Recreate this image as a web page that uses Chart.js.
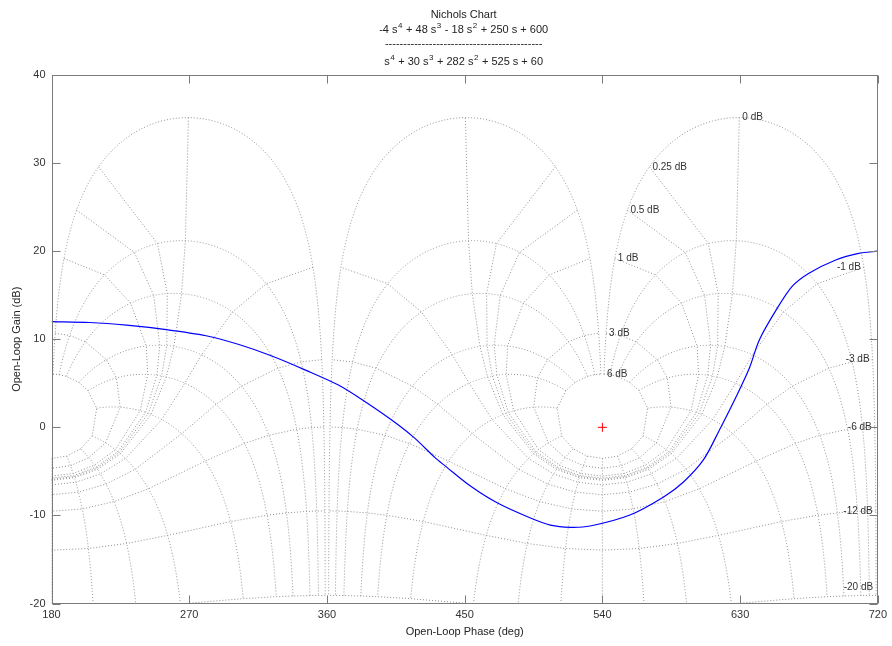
<!DOCTYPE html>
<html><head><meta charset="utf-8">
<script src="https://cdn.jsdelivr.net/npm/chart.js@4/dist/chart.umd.min.js"></script>
<style>html,body{margin:0;padding:0;background:#fff;} canvas{display:block;}</style>
</head><body>
<canvas id="c" width="892" height="646"></canvas>
<script>
// ---- data ----
const phaseTicks = [180, 270, 360, 450, 540, 630, 720];
const gainTicks = [-20, -10, 0, 10, 20, 30, 40];
const curvePhase = [180, 205, 229, 255, 281, 302.5, 324, 346, 367.5, 385, 406.5, 417.5, 431, 437, 454, 471.5, 493, 506, 519, 532, 558, 580, 593, 606, 616.5, 627.5, 636, 642.5, 653.5, 664, 675, 692.5, 707.5, 720];
const curveGain  = [12.0, 11.9, 11.6, 11.1, 10.4, 9.4, 8.1, 6.5, 4.8, 2.9, 0.3, -1.25, -3.5, -4.35, -6.7, -8.6, -10.3, -11.1, -11.35, -11.2, -9.95, -7.9, -6.2, -3.7, -0.3, 3.5, 6.7, 9.9, 13.3, 16.0, 17.5, 19.0, 19.75, 20.0];
const gridGainsDb = [6, 3, 1, 0.5, 0.25, 0, -1, -3, -6, -12, -20];
const gridPhasesDeg = [1, 5, 10, 20, 30, 50, 90, 120, 150, 180];
const gridShifts = [360, 720];
const criticalPhase = [540];
const criticalGain = [0];
const numCoeffs = [-4, 48, -18, 250, 600];
const denCoeffs = [1, 30, 282, 525, 60];
const chartTitle = 'Nichols Chart';
const xTitle = 'Open-Loop Phase (deg)';
const yTitle = 'Open-Loop Gain (dB)';

const FONT = '"Liberation Sans", Arial, Helvetica, sans-serif';
Chart.defaults.font.family = FONT;
Chart.defaults.font.size = 11;
Chart.defaults.color = '#333';

// Nichols grid geometry (closed-loop magnitude M dB, closed-loop phase -phi deg)
function nicholsPt(mDb, phiDeg) {
  const M = Math.pow(10, mDb / 20);
  const p = -phiDeg * Math.PI / 180;
  const tr = M * Math.cos(p), ti = M * Math.sin(p);
  const dr = 1 - tr, di = -ti;
  const a = Math.atan2(di, dr) * 180 / Math.PI;
  return { x: -phiDeg - a, y: 20 * Math.log10(M / Math.hypot(dr, di)) };
}
// sampling of closed-loop gain along the constant-phase (N) lines
function sampleGains(hi, lo) {
  const out = [];
  for (let g = hi; g > 1; g -= 0.1) out.push(g);
  for (let g = 1; g > -1; g -= 0.004) out.push(g);
  for (let g = -1; g > lo; g -= 0.1) out.push(g);
  out.push(lo);
  return out;
}
const gridLines = [];
gridGainsDb.forEach(g => {
  const pts = gridPhasesDeg.map(ph => nicholsPt(g, ph));
  const mir = pts.slice(0, -1).reverse().map(p => ({ x: -360 - p.x, y: p.y }));
  gridLines.push(pts.concat(mir));
});
const nGains = sampleGains(gridGainsDb[0], gridGainsDb[gridGainsDb.length - 1]);
gridPhasesDeg.forEach(ph => {
  const pts = nGains.map(g => nicholsPt(g, ph));
  gridLines.push(pts);
  if (ph !== 180) gridLines.push(pts.map(p => ({ x: -360 - p.x, y: p.y })));
});

const datasets = [];
datasets.push({
  data: criticalPhase.map((x, i) => ({ x, y: criticalGain[i] })),
  showLine: false, pointStyle: 'cross', pointRadius: 4.5, borderColor: '#ff0000',
  backgroundColor: '#ff0000', pointBorderWidth: 1
});
datasets.push({
  data: curvePhase.map((x, i) => ({ x, y: curveGain[i] })),
  showLine: true, borderColor: '#0000ff', borderWidth: 1.2, pointRadius: 0, tension: 0.3
});
gridShifts.forEach(k => {
  gridLines.forEach(line => {
    datasets.push({
      data: line.map(p => ({ x: p.x + k, y: p.y })),
      showLine: true, borderColor: '#8f8f8f', borderWidth: 1, borderDash: [1, 2],
      pointRadius: 0, tension: 0
    });
  });
});

function polyParts(c) {
  const n = c.length - 1;
  const parts = [];
  c.forEach((v, i) => {
    const pw = n - i;
    let s = '';
    if (i === 0) s = v < 0 ? '-' : '';
    else s = v < 0 ? ' - ' : ' + ';
    const a = Math.abs(v);
    if (pw === 0) { s += a; parts.push({ t: s }); return; }
    if (a !== 1) s += a + ' ';
    s += 's';
    parts.push({ t: s });
    if (pw > 1) parts.push({ t: String(pw), sup: true });
  });
  return parts;
}
function drawRich(ctx, parts, cx, base) {
  const big = '11px ' + FONT, small = '8px ' + FONT;
  let w = 0;
  parts.forEach(p => { ctx.font = p.sup ? small : big; w += ctx.measureText(p.t).width + (p.sup ? 1 : 0); });
  let x = cx - w / 2;
  ctx.textAlign = 'left'; ctx.textBaseline = 'alphabetic';
  parts.forEach(p => {
    ctx.font = p.sup ? small : big;
    ctx.fillText(p.t, x + (p.sup ? 0.5 : 0), p.sup ? base - 5 : base);
    x += ctx.measureText(p.t).width + (p.sup ? 1 : 0);
  });
  return w;
}

const decor = {
  id: 'decor',
  afterDatasetsDraw(chart) {
    const ctx = chart.ctx, xs = chart.scales.x, ys = chart.scales.y, a = chart.chartArea;
    ctx.save();
    ctx.font = '10px ' + FONT;
    ctx.fillStyle = '#333';
    ctx.textBaseline = 'middle';
    const k = gridShifts[gridShifts.length - 1];
    gridGainsDb.forEach(g => {
      const p = nicholsPt(g, gridPhasesDeg[0]);
      const px = xs.getPixelForValue(p.x + k);
      let py = ys.getPixelForValue(p.y);
      if (py < a.top || py > a.bottom) return;
      py = Math.min(py, a.bottom - 16);
      ctx.textAlign = g >= 0 ? 'left' : 'right';
      ctx.fillText(g + ' dB', px + (g >= 0 ? 3 : -3), py);
    });
    ctx.restore();
  },
  afterDraw(chart) {
    const ctx = chart.ctx, xs = chart.scales.x, ys = chart.scales.y, a = chart.chartArea;
    ctx.save();
    ctx.strokeStyle = '#7a7a7a';
    ctx.lineWidth = 1;
    const L = Math.round(a.left) + 0.5, R = Math.round(a.right) - 0.5;
    const T = Math.round(a.top) + 0.5, B = Math.round(a.bottom) - 0.5;
    ctx.strokeRect(L, T, R - L, B - T);
    const tl = 8;
    ctx.beginPath();
    phaseTicks.forEach(v => {
      const x = Math.round(xs.getPixelForValue(v)) + 0.5;
      ctx.moveTo(x, B); ctx.lineTo(x, B - tl);
      ctx.moveTo(x, T); ctx.lineTo(x, T + tl);
    });
    gainTicks.forEach(v => {
      const y = Math.round(ys.getPixelForValue(v)) + 0.5;
      ctx.moveTo(L, y); ctx.lineTo(L + tl, y);
      ctx.moveTo(R, y); ctx.lineTo(R - tl, y);
    });
    ctx.stroke();
    // title block
    const cx = (a.left + a.right) / 2 - 1;
    ctx.fillStyle = '#222';
    ctx.font = '11px ' + FONT;
    ctx.textAlign = 'center'; ctx.textBaseline = 'alphabetic';
    ctx.fillText(chartTitle, cx, 18);
    drawRich(ctx, polyParts(numCoeffs), cx, 33);
    const wDen = drawRich(ctx, polyParts(denCoeffs), cx, 65);
    ctx.font = '11px ' + FONT;
    let dashes = '';
    while (ctx.measureText(dashes + '-').width <= wDen) dashes += '-';
    ctx.textAlign = 'center';
    ctx.fillText(dashes, cx, 47);
    ctx.restore();
  }
};

new Chart(document.getElementById('c'), {
  type: 'scatter',
  data: { datasets },
  options: {
    responsive: false, animation: false, events: [],
    layout: { padding: { top: 75, right: 9.5, left: 0, bottom: 0 } },
    plugins: { legend: { display: false }, tooltip: { enabled: false } },
    scales: {
      x: {
        type: 'linear', min: phaseTicks[0], max: phaseTicks[phaseTicks.length - 1],
        afterBuildTicks: s => { s.ticks = phaseTicks.map(v => ({ value: v })); },
        afterFit: s => { s.height = 42.5; },
        grid: { display: false, drawTicks: false }, border: { display: false },
        ticks: { padding: 5, color: '#333', maxRotation: 0, autoSkip: false },
        title: { display: true, text: xTitle, color: '#222', padding: { top: 0, bottom: 7.4 } }
      },
      y: {
        type: 'linear', min: gainTicks[0], max: gainTicks[gainTicks.length - 1],
        afterBuildTicks: s => { s.ticks = gainTicks.map(v => ({ value: v })); },
        afterFit: s => { s.width = 51.5; },
        grid: { display: false, drawTicks: false }, border: { display: false },
        ticks: { padding: 6, color: '#333', autoSkip: false },
        title: { display: true, text: yTitle, color: '#222', padding: { top: 10.4, bottom: 0 } }
      }
    }
  },
  plugins: [decor]
});
</script>
</body></html>
